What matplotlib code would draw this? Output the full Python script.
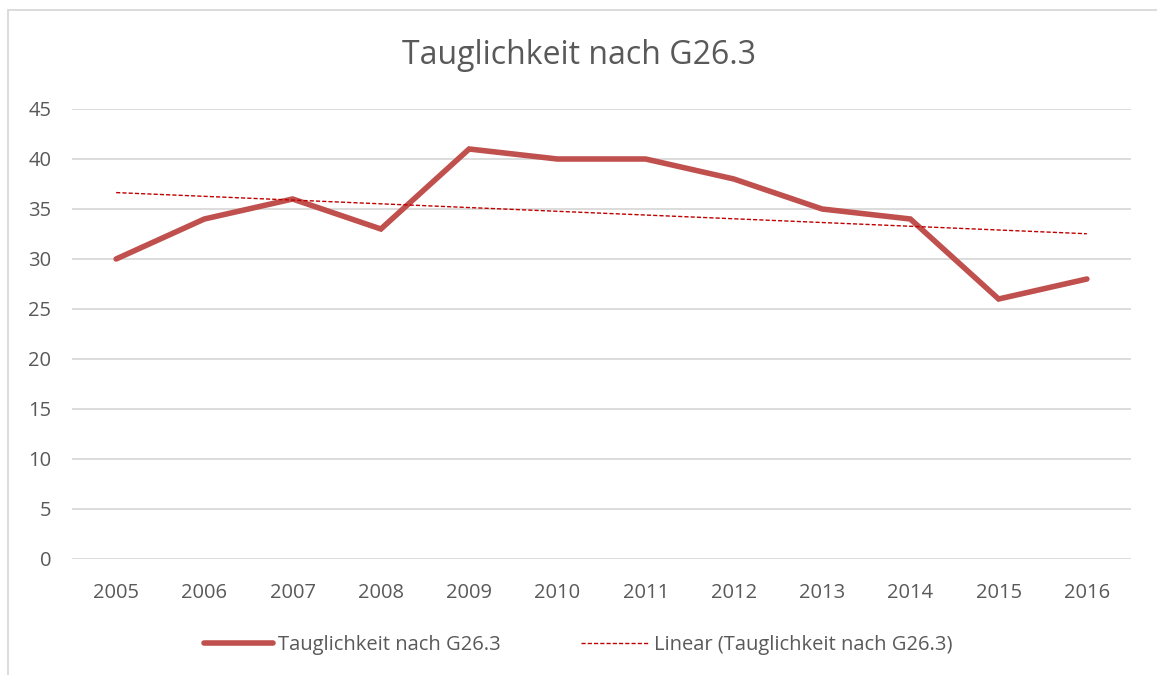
import matplotlib.pyplot as plt
import matplotlib.patches as mpatches
import numpy as np

jahre = ['2005', '2006', '2007', '2008', '2009', '2010', '2011', '2012', '2013', '2014', '2015', '2016']
werte = [30, 34, 36, 33, 41, 40, 40, 38, 35, 34, 26, 28]

plt.rcParams['font.family'] = ['Open Sans', 'DejaVu Sans']
grau = '#595959'

fig = plt.figure(figsize=(11.57, 6.75), dpi=100)
ax = fig.add_axes([72 / 1157, 116 / 675, 1059 / 1157, 450 / 675])

x = np.arange(len(jahre))
ax.plot(x, werte, color='#C0504D', linewidth=4.0, solid_capstyle='round',
        solid_joinstyle='miter', label='Tauglichkeit nach G26.3', zorder=3)

# lineare Trendlinie
m, b = np.polyfit(x, werte, 1)
ax.plot(x, m * x + b, color='#C00000', linewidth=1.0, linestyle=(0, (3, 1.5)),
        label='Linear (Tauglichkeit nach G26.3)', zorder=4)

ax.set_xlim(-0.5, len(jahre) - 0.5)
ax.set_ylim(0, 45)
ax.set_yticks(range(0, 46, 5))
ax.set_xticks(x)
ax.set_xticklabels(jahre)
ax.tick_params(length=0, labelsize=14.5, labelcolor=grau)
ax.tick_params(axis='y', pad=15)
ax.tick_params(axis='x', pad=17)
ax.grid(axis='y', color='#D9D9D9', linewidth=1.3)
ax.set_axisbelow(True)
for s in ax.spines.values():
    s.set_visible(False)

fig.text(0.5, 1 - 55 / 675, 'Tauglichkeit nach G26.3', ha='center', va='center',
         fontsize=23, color=grau)

leg = fig.legend(loc='center', bbox_to_anchor=(0.5, 1 - 645 / 675), ncol=2,
                 frameon=False, fontsize=14.5, handlelength=3.4, handletextpad=0.25,
                 columnspacing=4.0, labelcolor=grau)

# Rahmen des Diagramms
fig.patches.append(mpatches.Rectangle((8 / 1157, -0.05), 1.1, 1 - 10 / 675 + 0.05,
                                      transform=fig.transFigure, fill=False,
                                      edgecolor='#D9D9D9', linewidth=1.3))

fig.savefig('out.png', dpi=100)
